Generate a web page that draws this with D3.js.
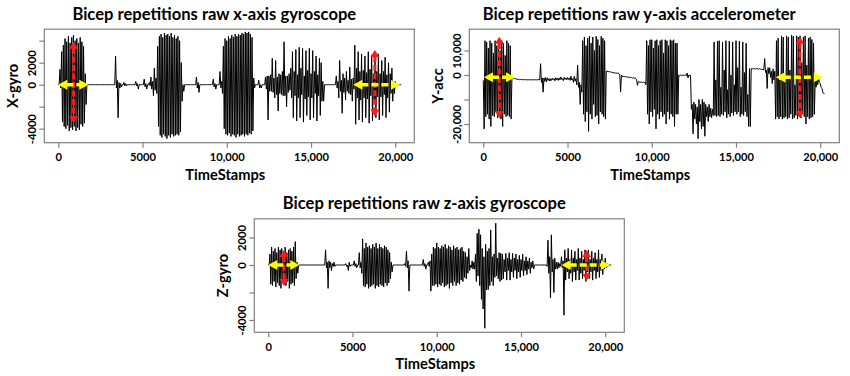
<!DOCTYPE html>
<html><head><meta charset="utf-8">
<script src="https://cdn.jsdelivr.net/npm/d3@7/dist/d3.min.js"></script>
<style>body{margin:0;background:#fff}svg{display:block}</style>
</head><body>
<svg id="c" width="850" height="376"></svg>
<script>
// ---------------- DATA ----------------
// Each signal is given as the max (hi) and min (lo) reading inside consecutive 100-TimeStamp bins.
const binWidth = 100;
const xTicks = [0, 5000, 10000, 15000, 20000];
const xTickLabels = ["0", "5000", "10,000", "15,000", "20,000"];
const xLabel = "TimeStamps";

// Panel 1: raw x-axis gyroscope
const xGyroHi = [
  0, 1400, 3000, 3600, 4200, 3900, 4400, 3800, 4300, 4500,
  4000, 4200, 3800, 4300, 3900, 3500, 1000, 0, 0, 0,
  0, 0, 0, 0, 0, 0, 0, 0, 0, 0,
  0, 0, 0, 0, 2600, 400, 200, 100, 0, 200,
  100, 0, 0, 0, 0, 0, 300, 100, 0, 0,
  0, 500, 100, 0, 200, 700, 300, 1500, 600, 3500,
  4400, 4600, 4300, 4700, 4500, 4600, 4400, 4700, 4300, 4500,
  4200, 4400, 4000, 2000, 0, 0, 0, 0, 0, 0,
  0, 0, 700, 200, 0, 0, 0, 0, 0, 0,
  0, 0, 500, 100, 0, 0, 1200, 300, 3500, 4200,
  4000, 4400, 4200, 4500, 4300, 4600, 4400, 4600, 4500, 4700,
  4600, 4800, 4700, 4800, 4600, 4300, 600, 0, 0, 400,
  0, 0, 0, 700, 800, 800, 900, 2400, 600, 2200,
  700, 1000, 900, 1200, 3900, 800, 800, 1000, 1500, 3000,
  1200, 3200, 900, 3400, 1500, 3300, 800, 3100, 1300, 3300,
  1000, 3100, 1200, 2600, 900, 2400, 2000, 300, 0, 0,
  0, 0, 0, 0, 0, 800, 300, 2200, 400, 1000,
  600, 1200, 400, 1600, 500, 600, 3600, 1500, 3000, 1200,
  2800, 1300, 2600, 1100, 3000, 1400, 2700, 1000, 2500, 1200,
  2800, 1000, 2200, 1200, 2500, 900, 2000, 1000, 1500, 300,
  300, 0, 0, 0
];
const xGyroLo = [
  0, -300, -3400, -3800, -4000, -3700, -4200, -3900, -4100, -3800,
  -4200, -3900, -4100, -3600, -3800, -3500, -1800, 0, 0, 0,
  0, 0, 0, 0, 0, 0, 0, 0, 0, 0,
  0, 0, 0, 0, -300, -3000, -300, -200, 0, -100,
  -100, 0, 0, 0, 0, 0, -100, -400, 0, 0,
  0, -200, -400, 0, -100, -400, -1000, -500, -800, -3800,
  -4600, -4800, -4500, -4700, -4900, -4600, -4800, -4500, -4700, -4600,
  -4500, -4600, -4300, -1500, -600, 0, 0, 0, 0, 0,
  0, 0, -300, -700, 0, 0, 0, 0, 0, 0,
  0, 0, -200, -400, 0, 0, -300, -800, -4000, -4500,
  -4600, -4400, -4700, -4500, -4600, -4800, -4500, -4700, -4600, -4500,
  -4700, -4500, -4600, -4400, -4500, -4200, -300, 0, 0, -300,
  -300, 0, 0, -400, -3200, -600, -600, -700, -1200, -900,
  -2400, -800, -900, -1000, -1000, -2000, -700, -500, -1200, -3000,
  -1000, -3300, -1200, -3000, -900, -3400, -1300, -2800, -1100, -3200,
  -1200, -3000, -800, -3300, -1000, -2800, -1500, -1500, 0, 0,
  0, 0, 0, 0, 0, -300, -1200, -600, -2600, -700,
  -1400, -600, -800, -900, -1500, -400, -3600, -1200, -3200, -1400,
  -3400, -1200, -3000, -1300, -3500, -1000, -3300, -1400, -3000, -1100,
  -3200, -1100, -2800, -900, -3000, -1200, -2500, -800, -1500, -800,
  -100, 0, 0, 0
];
const xGyroTicks = [-4000, -2000, 0, 2000, 4000];
const xGyroTickLabels = ["-4000", "", "0", "2000", ""];

// Panel 2: raw y-axis accelerometer
const yAccHi = [
  -2200, 14000, 13500, 11000, 14000, 13000, 9000, 14000, 12000, 13500,
  10000, 14000, 13000, 8000, 14000, 13000, 12000, -1100, -1300, -1500,
  -1700, -1800, -1800, -1900, -1900, -1900, -1900, -1900, -1900, -1900,
  -1900, -1900, -1900, -1800, 4600, -1200, -1200, -1000, -1200, -1500,
  -1500, -1300, -1500, -1100, -1300, -1200, -800, -1500, -1000, -1200,
  -1000, -1200, -500, -1500, -500, -1500, 4000, -3000, -4000, 14000,
  15500, 12000, 15000, 15800, 13000, 15500, 10000, 15800, 14500, 12000,
  15800, 15000, 14000, 1600, 1500, 1400, 1200, 1000, 900, 800,
  800, 0, 0, -500, -600, -700, -800, -900, -1000, -1100,
  -1200, -2000, -2700, -2800, -2900, -2900, -3000, 14000, 12000, 14400,
  14400, 11000, 14000, 14400, 12000, 14000, 14400, 9000, 14400, 14000,
  12000, 14400, 14000, 14400, 13000, 13000, 0, 0, 0, 0,
  0, 800, 0, -100, -12000, -11000, -12000, -13000, -10000, -12000,
  -10000, -11000, -12000, -13000, -12000, -13500, -14000, 13500, -2000, 13800,
  14000, -5000, 13500, 2000, 14000, -6000, 13800, 0, 13500, -4000,
  14000, 3000, 13800, -5000, 13500, 1000, 13000, -8000, 2600, 2600,
  2600, 2600, 2700, 2500, 2600, 2400, 2300, 6700, 2000, 3000,
  3000, 1500, 2500, 1500, 14000, 15000, -2000, 16000, 15500, -3000,
  16000, 15500, 2000, 16200, 15800, -4000, 16000, 15500, 16000, 5000,
  15500, 16000, 4000, 15000, 15500, 14500, 13000, -2000, -2000, -1500,
  -3500, -5500, -7600
];
const yAccLo = [
  -22000, -17000, -16000, -18000, -21000, -16500, -17000, -15000, -17500, -16000,
  -18000, -21000, -16000, -17000, -16500, -17000, -18000, -1200, -1400, -1600,
  -1800, -1900, -1900, -1900, -1900, -2000, -2000, -2000, -2000, -2000,
  -2000, -2000, -2000, -2000, -3000, -7000, -2600, -2800, -2200, -2500,
  -2200, -2000, -2400, -2000, -2200, -2000, -1800, -2300, -1800, -2000,
  -1800, -2200, -2000, -3000, -2500, -4000, -5000, -12000, -7000, -16000,
  -19000, -15000, -23000, -16000, -18000, -12000, -17000, -16500, -20000, -15000,
  -16000, -17000, -18000, 1400, 1300, 1200, 1000, 900, 800, 700,
  600, -7000, -600, -700, -800, -900, -1000, -1100, -1200, -1300,
  -1400, -4200, -2900, -3000, -3100, -3100, -4000, -16000, -20000, -15000,
  -17000, -14000, -22000, -16000, -18000, -15000, -17000, -16000, -20000, -15000,
  -18000, -16000, -17000, -21000, -16000, -16000, -300, -200, -300, -200,
  -300, -1200, -300, -14000, -24000, -18000, -20000, -26000, -19000, -22000,
  -21000, -25000, -17000, -19000, -17000, -17500, -16500, -16500, -17000, -16500,
  -17000, -16000, -16500, -15000, -17500, -16000, -17000, -15500, -16500, -15000,
  -16000, -15000, -17000, -16000, -16500, -15000, -17000, -21000, -21000, 2500,
  2500, 2400, 2500, 2300, 2400, 2200, 2100, 1000, -5500, 500,
  -1000, -3500, -2000, -18000, -17000, -18000, -17000, -18000, -17500, -17000,
  -18000, -17500, -16000, -18000, -17500, -16500, -18000, -17000, -17500, -16000,
  -17000, -20000, -17000, -18000, -17500, -17000, -16000, -5000, -4000, -3000,
  -5000, -7000, -7600
];
const yAccTicks = [-20000, -10000, 0, 10000];
const yAccTickLabels = ["-20,000", "", "0", "10,000"];

// Panel 3: raw z-axis gyroscope
const zGyroHi = [
  0, 800, 1300, 1000, 1200, 900, 1300, 1100, 1200, 1000,
  1300, 900, 1100, 1200, 1000, 1300, 1700, 200, 0, 0,
  0, 0, 0, 0, 0, 0, 0, 0, 0, 0,
  0, 0, 0, 0, 1100, 200, 300, 200, 100, 200,
  0, 0, 0, 0, 0, 0, 100, 0, 200, 0,
  0, 300, 100, 0, 900, 200, 1900, 1200, 1600, 1300,
  1400, 1200, 1500, 1300, 1600, 1200, 1500, 1300, 1200, 1400,
  1300, 1100, 900, 200, 0, 0, 0, 0, 0, 0,
  0, 100, 1000, 300, 0, 0, 0, 0, 0, 0,
  0, 0, 400, 100, 0, 200, 300, 800, 1300, 1200,
  1600, 1300, 1200, 1400, 1300, 1500, 1200, 1400, 1300, 1100,
  1400, 1200, 1300, 1100, 1200, 1300, 1000, 900, 600, 1200,
  0, 300, 200, 800, 2300, 2600, 2200, 1200, 600, 1500,
  1000, 1200, 2550, 600, 800, 3040, 500, 900, 850, 800,
  400, 850, 500, 900, 400, 850, 500, 800, 400, 700,
  400, 800, 300, 600, 300, 500, 200, 300, 0, 0,
  0, 0, 0, 0, 0, 0, 1800, 600, 2190, 400,
  500, 200, 200, 100, 600, 300, 1100, 500, 1200, 400,
  1100, 500, 1000, 400, 1200, 500, 1000, 400, 1100, 500,
  1100, 400, 1000, 500, 900, 400, 1100, 400, 800, 300,
  500, 100, 0, 0
];
const zGyroLo = [
  0, -1400, -1500, -1200, -1600, -1300, -1500, -1700, -1300, -1400,
  -1500, -1200, -1700, -1400, -1300, -1500, -1000, -600, 0, 0,
  0, 0, 0, 0, 0, 0, 0, 0, 0, 0,
  0, 0, 0, 0, -200, -1700, -200, -400, -100, -100,
  0, 0, 0, 0, 0, 0, -100, -400, -100, 0,
  0, -100, -200, 0, -200, -600, -1500, -1600, -1400, -1700,
  -1600, -1500, -1400, -1700, -1500, -1600, -1400, -1500, -1600, -1300,
  -1500, -1300, -1000, -500, 0, 0, 0, 0, 0, 0,
  0, -100, -200, -1900, 0, 0, 0, 0, 0, 0,
  0, 0, -100, -300, 0, -100, -1900, -1500, -1500, -1400,
  -1600, -1400, -1500, -1300, -1600, -1500, -1400, -1700, -1300, -1500,
  -1200, -1500, -1300, -1400, -1100, -1200, -900, -1000, -600, -400,
  -200, -300, -300, -1200, -800, -1500, -2500, -3200, -4600, -1800,
  -1800, -1500, -1200, -1500, -900, -800, -1000, -1200, -1100, -1000,
  -500, -1100, -400, -1100, -500, -900, -400, -1000, -500, -900,
  -400, -800, -400, -700, -300, -600, -200, -300, 0, 0,
  0, 0, 0, 0, 0, -100, -600, -2400, -500, -2000,
  -300, -300, -200, -100, -200, -3650, -1100, -500, -1000, -600,
  -1200, -500, -1100, -400, -1100, -600, -1000, -400, -1200, -500,
  -1000, -500, -1100, -400, -1000, -500, -900, -400, -700, -300,
  -200, -100, 0, 0
];
const zGyroTicks = [-4000, -2000, 0, 2000];
const zGyroTickLabels = ["-4000", "", "0", "2000"];

// Annotation arrows: yellow horizontal [tStart, tEnd, value], red vertical [t, vTop, vBottom]
const xGyroYellow = [[0, 1780, 0], [17510, 20280, 0]];
const xGyroRed = [[910, 3900, -3500], [18790, 3150, -2900]];
const yAccYellow = [[40, 1880, -950], [17360, 20150, -950]];
const yAccRed = [[950, 15600, -17700], [18790, 15600, -17400]];
const zGyroYellow = [[0, 1840, 0], [17410, 20280, 0]];
const zGyroRed = [[930, 1090, -1530], [18890, 1090, -1140]];

const titles = ["Bicep repetitions raw x-axis gyroscope",
                "Bicep repetitions raw y-axis accelerometer",
                "Bicep repetitions raw z-axis gyroscope"];
const yLabels = ["X-gyro", "Y-acc", "Z-gyro"];

// ---------------- LAYOUT ----------------
const FONT = "Lato, 'Open Sans', sans-serif";
const boxW = 370, boxH = 113.5;
const xDomain = [-830, 21130];
const panels = [
  {title: titles[0], ylab: yLabels[0], hi: xGyroHi, lo: xGyroLo, yTicks: xGyroTicks, yTickLabels: xGyroTickLabels,
   yDomain: [-5273, 5045], yellow: xGyroYellow, red: xGyroRed, left: 44.3, top: 29.2},
  {title: titles[1], ylab: yLabels[1], hi: yAccHi, lo: yAccLo, yTicks: yAccTicks, yTickLabels: yAccTickLabels,
   yDomain: [-27630, 18694], yellow: yAccYellow, red: yAccRed, left: 469.3, top: 29.2},
  {title: titles[2], ylab: yLabels[2], hi: zGyroHi, lo: zGyroLo, yTicks: zGyroTicks, yTickLabels: zGyroTickLabels,
   yDomain: [-4895, 3360], yellow: zGyroYellow, red: zGyroRed, left: 254.3, top: 218.8}
];

const svg = d3.select("#c");
svg.append("rect").attr("width", 850).attr("height", 376).attr("fill", "#fff");

function fitSize(text, target) {
  const t = svg.append("text").attr("font-family", FONT).attr("font-weight", "bold")
    .attr("font-size", 20).text(text);
  const w = t.node().getComputedTextLength();
  t.remove();
  return 20 * target / w;
}
const titleSize = fitSize(titles[0], 284);
const labSize = fitSize(xLabel, 80);
const tickSize = fitSize("10,000", 35);

function arrow(g, x1, y1, x2, y2, color, width, head, hw, dash) {
  const dx = x2 - x1, dy = y2 - y1, L = Math.hypot(dx, dy), ux = dx / L, uy = dy / L;
  const px = -uy, py = ux;
  g.append("line")
    .attr("x1", x1 + ux * head * 0.9).attr("y1", y1 + uy * head * 0.9)
    .attr("x2", x2 - ux * head * 0.9).attr("y2", y2 - uy * head * 0.9)
    .attr("stroke", color).attr("stroke-width", width).attr("stroke-dasharray", dash);
  [[x2, y2, 1], [x1, y1, -1]].forEach(([tx, ty, s]) => {
    const bx = tx - s * ux * head, by = ty - s * uy * head;
    g.append("path")
      .attr("d", `M${tx},${ty}L${bx + px * hw},${by + py * hw}L${bx - px * hw},${by - py * hw}Z`)
      .attr("fill", color);
  });
}

panels.forEach(p => {
  const g = svg.append("g");
  const x = d3.scaleLinear().domain(xDomain).range([p.left, p.left + boxW]);
  const y = d3.scaleLinear().domain(p.yDomain).range([p.top + boxH, p.top]);
  const bottom = p.top + boxH;

  // signal: within each bin the trace visits the bin maximum, then the bin minimum
  const pts = p.hi.flatMap((h, i) => [[i * binWidth, h], [i * binWidth + binWidth / 2, p.lo[i]]]);
  const line = d3.line().x(d => x(d[0])).y(d => y(d[1]));
  g.append("path").datum(pts).attr("d", line)
    .attr("fill", "none").attr("stroke", "#000").attr("stroke-width", 1)
    .attr("stroke-linejoin", "round");

  // box
  g.append("rect").attr("x", p.left).attr("y", p.top).attr("width", boxW).attr("height", boxH)
    .attr("fill", "none").attr("stroke", "#808080").attr("stroke-width", 1.2);

  // x axis
  const xa = g.append("g").attr("transform", `translate(0,${bottom})`)
    .call(d3.axisBottom(x).tickValues(xTicks).tickFormat((d, i) => xTickLabels[i]).tickSizeInner(5).tickSizeOuter(0));
  xa.select(".domain").remove();
  xa.selectAll(".tick line").attr("stroke", "#808080").attr("stroke-width", 1.2);
  xa.selectAll(".tick text").attr("y", 18.5).attr("dy", null)
    .attr("font-family", FONT).attr("font-weight", "bold").attr("font-size", tickSize).attr("fill", "#000");

  // y axis
  const ya = g.append("g").attr("transform", `translate(${p.left},0)`)
    .call(d3.axisLeft(y).tickValues(p.yTicks).tickFormat((d, i) => p.yTickLabels[i]).tickSizeInner(5).tickSizeOuter(0));
  ya.select(".domain").remove();
  ya.selectAll(".tick line").attr("stroke", "#808080").attr("stroke-width", 1.2);
  ya.selectAll(".tick text").attr("x", null).attr("dy", null)
    .attr("transform", "translate(-8,0) rotate(-90)")
    .attr("text-anchor", "middle")
    .attr("font-family", FONT).attr("font-weight", "bold").attr("font-size", tickSize).attr("fill", "#000");

  // titles
  g.append("text").attr("x", p.left + 170).attr("y", p.top - 9.5)
    .attr("text-anchor", "middle").attr("font-family", FONT).attr("font-weight", "bold")
    .attr("font-size", titleSize).text(p.title);
  g.append("text").attr("x", p.left + boxW / 2 - 4).attr("y", bottom + 37)
    .attr("text-anchor", "middle").attr("font-family", FONT).attr("font-weight", "bold")
    .attr("font-size", labSize).text(xLabel);
  g.append("text").attr("transform", `translate(${p.left - 26},${p.top + boxH / 2}) rotate(-90)`)
    .attr("text-anchor", "middle").attr("font-family", FONT).attr("font-weight", "bold")
    .attr("font-size", labSize).text(p.ylab);

  // annotation arrows
  p.red.forEach(([t, v1, v2]) => arrow(g, x(t), y(v1), x(t), y(v2), "#ff1a1a", 3, 7, 4.5, "6,2.5"));
  p.yellow.forEach(([t1, t2, v]) => arrow(g, x(t1), y(v), x(t2), y(v), "#ffff00", 3.5, 9, 5, "7,3"));
});
</script>
</body></html>
